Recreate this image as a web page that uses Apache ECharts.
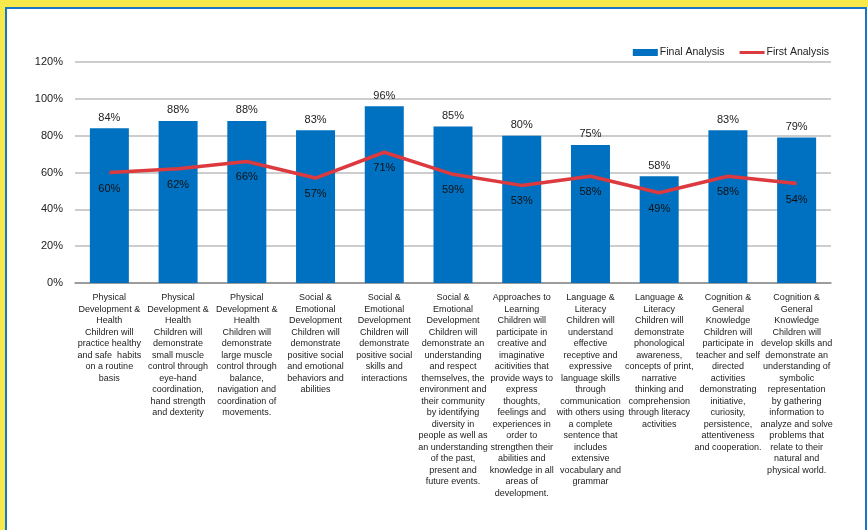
<!DOCTYPE html>
<html>
<head>
<meta charset="utf-8">
<script src="https://cdn.jsdelivr.net/npm/echarts@6/dist/echarts.min.js"></script>
<style>
  html, body { margin:0; padding:0; background:#fff; }
  #wrap { position:relative; width:868px; height:530px; overflow:hidden; background:#fff; }
  #ytop { position:absolute; left:0; top:0; width:868px; height:7px; background:#F7E94A; }
  #yleft { position:absolute; left:0; top:0; width:5px; height:530px; background:#F7E94A; }
  #frame { position:absolute; left:5px; top:7px; width:858px; height:540px; border:2px solid #1A75C4; border-bottom:none; }
  #chart { position:absolute; left:0; top:0; width:868px; height:530px; }
</style>
</head>
<body>
<div id="wrap">
  <div id="ytop"></div>
  <div id="yleft"></div>
  <div id="frame"></div>
  <div id="chart"></div>
</div>
<script>
const categories = [
  "Physical\nDevelopment &\nHealth\nChildren will\npractice healthy\nand safe  habits\non a routine\nbasis",
  "Physical\nDevelopment &\nHealth\nChildren will\ndemonstrate\nsmall muscle\ncontrol through\neye-hand\ncoordination,\nhand strength\nand dexterity",
  "Physical\nDevelopment &\nHealth\nChildren will\ndemonstrate\nlarge muscle\ncontrol through\nbalance,\nnavigation and\ncoordination of\nmovements.",
  "Social &\nEmotional\nDevelopment\nChildren will\ndemonstrate\npositive social\nand emotional\nbehaviors and\nabilities",
  "Social &\nEmotional\nDevelopment\nChildren will\ndemonstrate\npositive social\nskills and\ninteractions",
  "Social &\nEmotional\nDevelopment\nChildren will\ndemonstrate an\nunderstanding\nand respect\nthemselves, the\nenvironment and\ntheir community\nby identifying\ndiversity in\npeople as well as\nan understanding\nof the past,\npresent and\nfuture events.",
  "Approaches to\nLearning\nChildren will\nparticipate in\ncreative and\nimaginative\nacitivities that\nprovide ways to\nexpress\nthoughts,\nfeelings and\nexperiences in\norder to\nstrengthen their\nabilities and\nknowledge in all\nareas of\ndevelopment.",
  "Language &\nLiteracy\nChildren will\nunderstand\neffective\nreceptive and\nexpressive\nlanguage skills\nthrough\ncommunication\nwith others using\na complete\nsentence that\nincludes\nextensive\nvocabulary and\ngrammar",
  "Language &\nLiteracy\nChildren will\ndemonstrate\nphonological\nawareness,\nconcepts of print,\nnarrative\nthinking and\ncomprehension\nthrough literacy\nactivities",
  "Cognition &\nGeneral\nKnowledge\nChildren will\nparticipate in\nteacher and self\ndirected\nactivities\ndemonstrating\ninitiative,\ncuriosity,\npersistence,\nattentiveness\nand cooperation.",
  "Cognition &\nGeneral\nKnowledge\nChildren will\ndevelop skills and\ndemonstrate an\nunderstanding of\nsymbolic\nrepresentation\nby gathering\ninformation to\nanalyze and solve\nproblems that\nrelate to their\nnatural and\nphysical world."
];
const finalAnalysis = [84, 88, 88, 83, 96, 85, 80, 75, 58, 83, 79];
const firstAnalysis = [60, 62, 66, 57, 71, 59, 53, 58, 49, 58, 54];
const yTicks = { min: 0, max: 120, interval: 20 };

const chart = echarts.init(document.getElementById('chart'), null, { renderer: 'canvas' });
const fontFamily = "'Liberation Sans', Arial, sans-serif";
const lineRed = '#DC3A3F';
chart.setOption({
  backgroundColor: 'transparent',
  animation: false,
  textStyle: { fontFamily: fontFamily },
  legend: {
    right: 34,
    top: 42,
    itemWidth: 25,
    itemHeight: 7,
    itemGap: 15,
    textStyle: { fontSize: 10.5, color: '#222', fontFamily: fontFamily, padding: [0, 0, 0, -3] },
    data: [
      { name: 'Final Analysis', icon: 'rect' },
      { name: 'First Analysis', icon: 'path://M0,0 L0.001,0 Z M0,2 L25,2 L25,5 L0,5 Z M0,7 L0.001,7 Z', itemStyle: { color: lineRed, opacity: 1, borderWidth: 0 } }
    ]
  },
  grid: { left: 75, right: 37, top: 62, bottom: 247, containLabel: false },
  xAxis: {
    type: 'category',
    data: categories,
    axisTick: { show: false },
    axisLine: { show: true, lineStyle: { color: '#8C8C8C', width: 1.5 } },
    axisLabel: {
      interval: 0,
      fontSize: 9,
      lineHeight: 11.5,
      color: '#222',
      margin: 9,
      align: 'center',
      verticalAlign: 'top',
      fontFamily: fontFamily
    }
  },
  yAxis: {
    type: 'value',
    min: yTicks.min,
    max: yTicks.max,
    interval: yTicks.interval,
    axisLine: { show: false },
    axisTick: { show: false },
    splitLine: { lineStyle: { color: '#BDBDBD', width: 1.5 } },
    axisLabel: { formatter: '{value}%', fontSize: 11, color: '#222', margin: 12, fontFamily: fontFamily }
  },
  series: [
    {
      name: 'Final Analysis',
      type: 'bar',
      data: finalAnalysis,
      barWidth: 39,
      itemStyle: { color: '#0070C0' },
      label: { show: true, position: 'top', distance: 5, formatter: '{c}%', fontSize: 11, color: '#222', fontFamily: fontFamily }
    },
    {
      name: 'First Analysis',
      type: 'line',
      data: firstAnalysis,
      symbol: 'circle',
      symbolSize: 1,
      showSymbol: true,
      lineStyle: { color: lineRed, width: 3.5 },
      itemStyle: { color: 'rgba(0,0,0,0)' },
      label: { show: true, position: 'bottom', distance: 10, formatter: '{c}%', fontSize: 11, color: '#111', fontFamily: fontFamily }
    }
  ]
});
</script>
</body>
</html>
